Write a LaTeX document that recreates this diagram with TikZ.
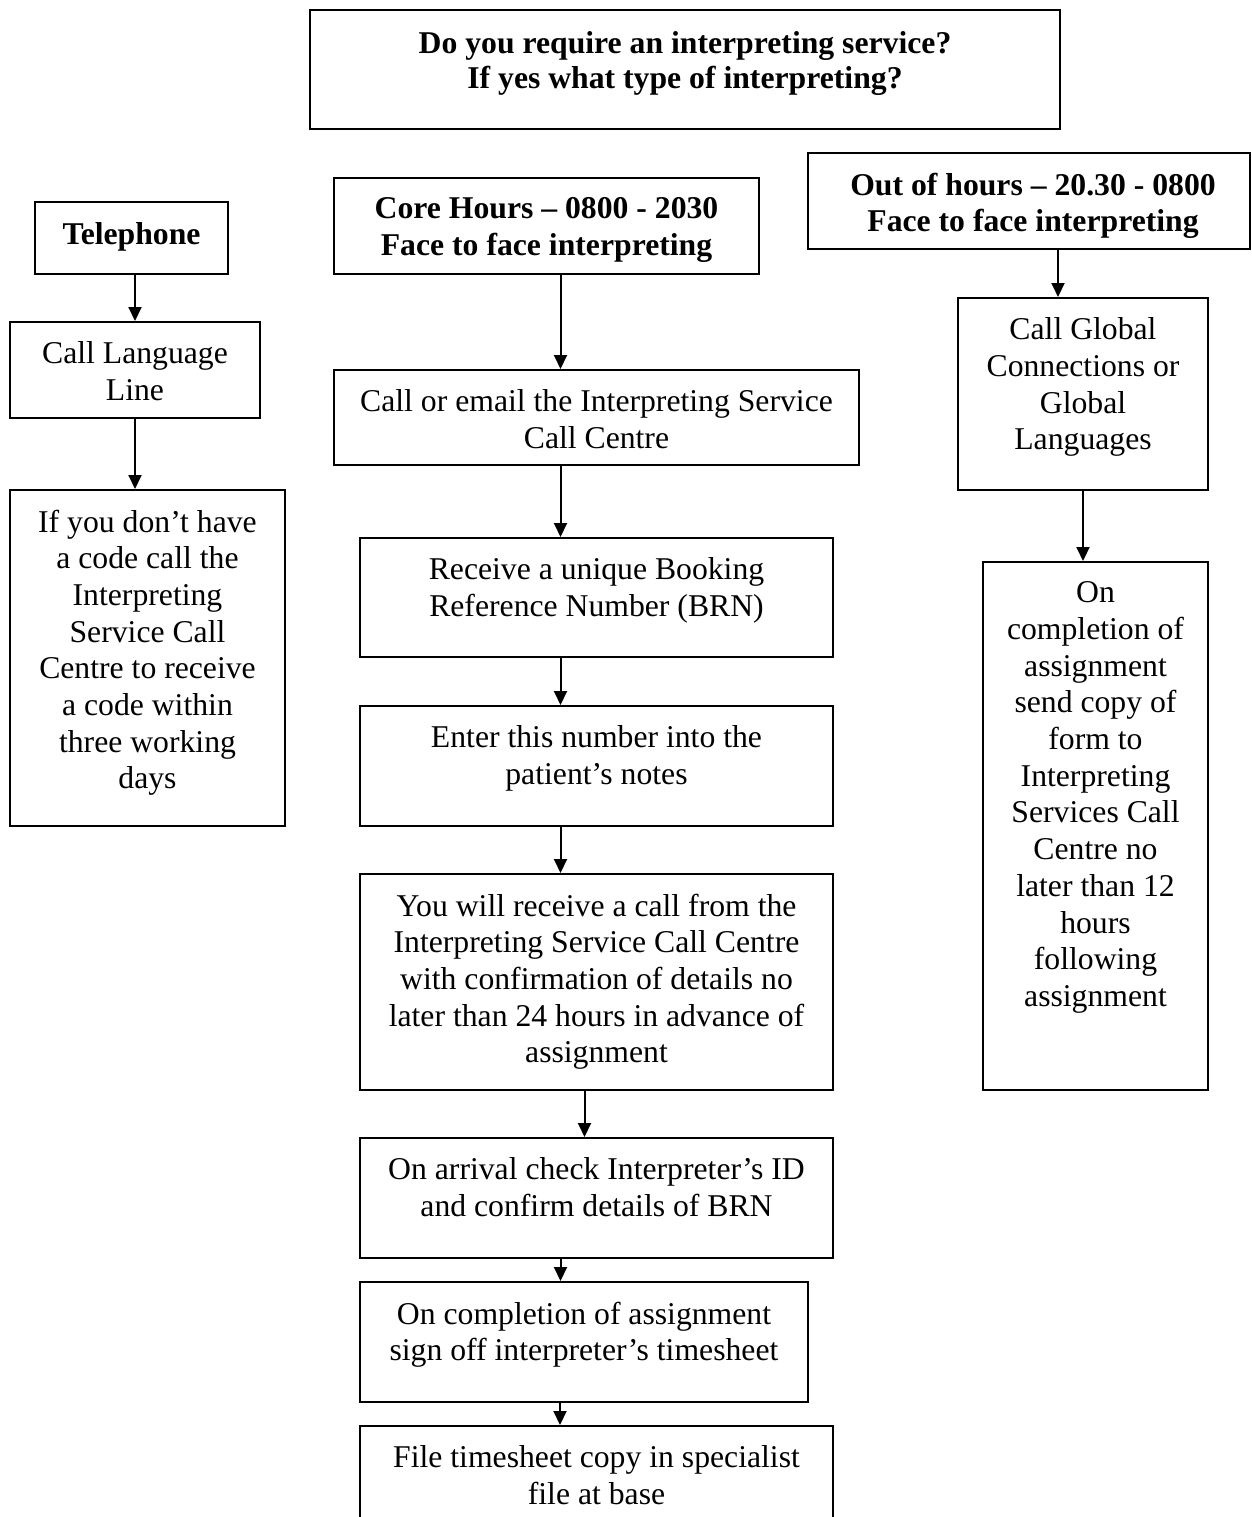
\documentclass[tikz,border=0pt]{standalone}
\usepackage{fontspec}
\setmainfont{Liberation Serif}
\usetikzlibrary{arrows.meta}
\begin{document}
\begin{tikzpicture}[x=1pt,y=-1pt,
  box/.style={draw, line width=2pt, inner sep=0pt, rectangle},
  txt/.style={font=\fontsize{31.7}{36.7}\selectfont, align=center, inner sep=0pt, anchor=north},
  btxt/.style={font=\fontsize{31.7}{36.7}\selectfont\bfseries, align=center, inner sep=0pt, anchor=north},
  arr/.style={line width=2pt, -{Triangle[length=14pt,width=13pt]}}]
\clip (0,0) rectangle (1252,1517);
\fill[white] (0,0) rectangle (1252,1517);
% boxes
\node[box, minimum width=750pt, minimum height=119pt] (top) at (685,69.5) {};
\node[box, minimum width=193pt, minimum height=72pt] (tel) at (131.5,238) {};
\node[box, minimum width=425pt, minimum height=96pt] (core) at (546.5,226) {};
\node[box, minimum width=442pt, minimum height=96pt] (out) at (1029,201) {};
\node[box, minimum width=250pt, minimum height=96pt] (lang) at (135,370) {};
\node[box, minimum width=525pt, minimum height=95pt] (callemail) at (596.5,417.5) {};
\node[box, minimum width=275pt, minimum height=336pt] (code) at (147.5,658) {};
\node[box, minimum width=473pt, minimum height=119pt] (brn) at (596.5,597.5) {};
\node[box, minimum width=473pt, minimum height=120pt] (enter) at (596.5,766) {};
\node[box, minimum width=473pt, minimum height=216pt] (call24) at (596.5,982) {};
\node[box, minimum width=473pt, minimum height=120pt] (arrival) at (596.5,1198) {};
\node[box, minimum width=448pt, minimum height=120pt] (completion) at (584,1342) {};
\node[box, minimum width=473pt, minimum height=134pt] (file) at (596.5,1493) {};
\node[box, minimum width=250pt, minimum height=192pt] (global) at (1083,394) {};
\node[box, minimum width=225pt, minimum height=528pt] (comp2) at (1095.5,826) {};
% texts
\node[btxt, font=\fontsize{31.7}{35}\selectfont\bfseries] (top-t) at ([yshift=-22pt]top.north) {Do you require an interpreting service?\\If yes what type of interpreting?};
\node[btxt] (tel-t) at ([yshift=-21pt]tel.north) {Telephone};
\node[btxt] (core-t) at ([yshift=-20.5pt]core.north) {Core Hours -- 0800 - 2030\\Face to face interpreting};
\node[btxt] (out-t) at ([xshift=4pt,yshift=-20.5pt]out.north) {Out of hours -- 20.30 - 0800\\Face to face interpreting};
\node[txt] (lang-t) at ([yshift=-20.5pt]lang.north) {Call Language\\Line};
\node[txt] (callemail-t) at ([yshift=-20.5pt]callemail.north) {Call or email the Interpreting Service\\Call Centre};
\node[txt] (code-t) at ([yshift=-20.5pt]code.north) {If you don’t have\\a code call the\\Interpreting\\Service Call\\Centre to receive\\a code within\\three working\\days};
\node[txt] (brn-t) at ([yshift=-20.5pt]brn.north) {Receive a unique Booking\\Reference Number (BRN)};
\node[txt] (enter-t) at ([yshift=-20.5pt]enter.north) {Enter this number into the\\patient’s notes};
\node[txt] (call24-t) at ([yshift=-20.5pt]call24.north) {You will receive a call from the\\Interpreting Service Call Centre\\with confirmation of details no\\later than 24 hours in advance of\\assignment};
\node[txt] (arrival-t) at ([yshift=-20.5pt]arrival.north) {On arrival check Interpreter’s ID\\and confirm details of BRN};
\node[txt] (completion-t) at ([yshift=-20.5pt]completion.north) {On completion of assignment\\sign off interpreter’s timesheet};
\node[txt] (file-t) at ([yshift=-20.5pt]file.north) {File timesheet copy in specialist\\file at base};
\node[txt] (global-t) at ([yshift=-20.5pt]global.north) {Call Global\\Connections or\\Global\\Languages};
\node[txt] (comp2-t) at ([yshift=-20.5pt]comp2.north) {On\\completion of\\assignment\\send copy of\\form to\\Interpreting\\Services Call\\Centre no\\later than 12\\hours\\following\\assignment};
% arrows
\draw[arr] (lang.north |- tel.south) -- (lang.north);
\draw[arr] (lang.south) -- (lang.south |- code.north);
\draw[arr] ([xshift=14pt]core.south) -- ([xshift=14pt]core.south |- callemail.north);
\draw[arr] ([xshift=-36pt]callemail.south) -- ([xshift=-36pt]brn.north);
\draw[arr] ([xshift=-36pt]brn.south) -- ([xshift=-36pt]enter.north);
\draw[arr] ([xshift=-36pt]enter.south) -- ([xshift=-36pt]call24.north);
\draw[arr] ([xshift=-12pt]call24.south) -- ([xshift=-12pt]arrival.north);
\draw[arr] ([xshift=-36pt]arrival.south) -- ([xshift=-36pt]arrival.south |- completion.north);
\draw[arr] ([xshift=-24pt]completion.south) -- ([xshift=-24pt]completion.south |- file.north);
\draw[arr] ([xshift=29pt]out.south) -- ([xshift=29pt]out.south |- global.north);
\draw[arr] (global.south) -- (global.south |- comp2.north);
\end{tikzpicture}
\end{document}
